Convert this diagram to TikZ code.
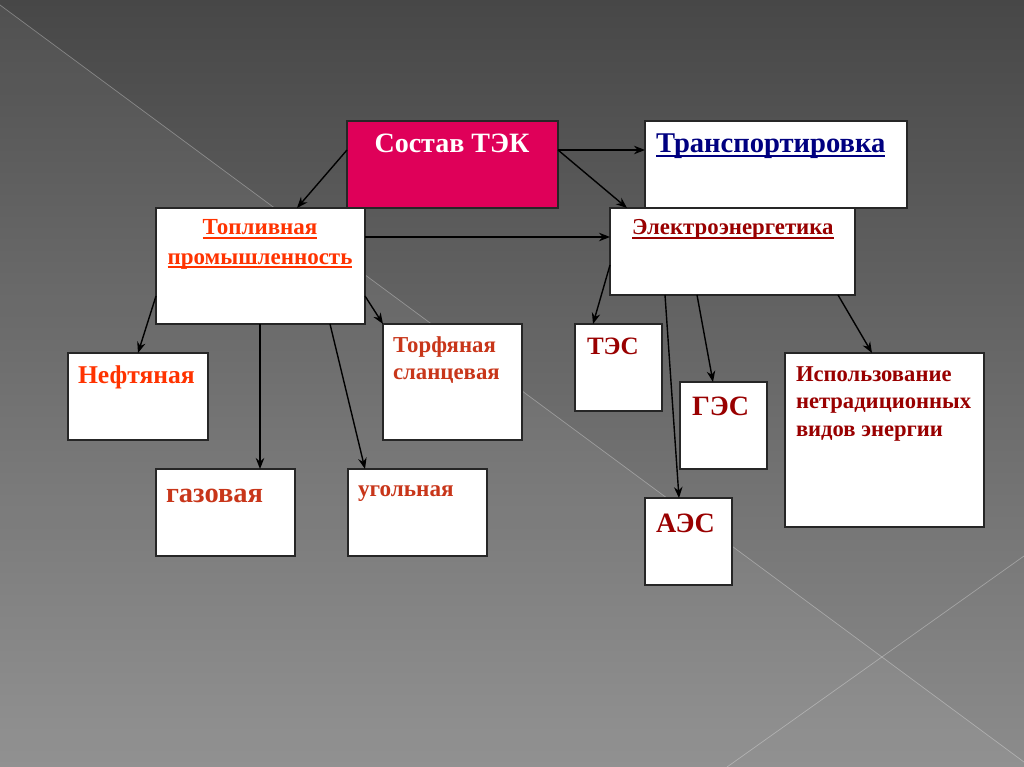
\documentclass[tikz,border=0pt]{standalone}
\usepackage{fontspec}
\setmainfont{Liberation Serif}
\usetikzlibrary{arrows.meta}
\definecolor{tekfill}{HTML}{DF0059}
\definecolor{navytxt}{HTML}{000080}
\definecolor{redA}{HTML}{FF3300}
\definecolor{redB}{HTML}{C8361A}
\definecolor{redC}{HTML}{990000}
\definecolor{bgtop}{HTML}{474747}
\definecolor{bgbot}{HTML}{8C8C8C}
\newcommand\ulx[1]{\setbox0\hbox{#1}\rlap{\vrule width \wd0 height -2pt depth 4.2pt}\box0}
\newcommand\fs[1]{\fontsize{#1}{#1}\selectfont\bfseries}
\tikzset{
  box/.style={draw=black!85, line width=1.3pt, fill=white, anchor=north west, inner sep=0pt, outer sep=0pt},
  txt/.style={anchor=base west, inner sep=0pt, outer sep=0pt, font=\bfseries},
  arr/.style={draw=black, line width=1.4pt, -{Stealth[length=11pt,width=8.5pt]}},
}
\begin{document}
\begin{tikzpicture}[x=1pt,y=-1pt]
\useasboundingbox (0,0) rectangle (1024,767);
% background
\shade[top color=bgtop, bottom color=bgbot] (0,0) rectangle (1024,767);
\fill[white, opacity=0.05] (0,5) -- (1024,762) -- (1024,767) -- (0,767) -- cycle;
\draw[white, opacity=0.3, line width=0.7pt] (0,5) -- (1024,762);
\draw[white, opacity=0.3, line width=0.7pt] (1024,556) -- (727,767);
% boxes
\node[box, fill=tekfill, minimum width=211pt, minimum height=87pt] (tek) at (347,121) {};
\node[box, minimum width=262pt, minimum height=87pt] (trans) at (645,121) {};
\node[box, minimum width=209pt, minimum height=116pt] (top) at (156,208) {};
\node[box, minimum width=245pt, minimum height=87pt] (el) at (610,208) {};
\node[box, minimum width=140pt, minimum height=87pt] (neft) at (68,353) {};
\node[box, minimum width=139pt, minimum height=87pt] (gaz) at (156,469) {};
\node[box, minimum width=139pt, minimum height=87pt] (ugol) at (348,469) {};
\node[box, minimum width=139pt, minimum height=116pt] (torf) at (383,324) {};
\node[box, minimum width=87pt, minimum height=87pt] (tes) at (575,324) {};
\node[box, minimum width=87pt, minimum height=87pt] (ges) at (680,382) {};
\node[box, minimum width=87pt, minimum height=87pt] (aes) at (645,498) {};
\node[box, minimum width=199pt, minimum height=174pt] (isp) at (785,353) {};
% texts
\node[txt, anchor=base, text=white] (tektxt) at (452,153) {\fs{28}Состав ТЭК};
\node[txt, text=navytxt] (transtxt) at (656,153) {\fs{28.6}\ulx{Транспортировка}};
\node[txt, anchor=base, text=redA] (toptxt1) at (260,235) {\fs{23}\ulx{Топливная}};
\node[txt, anchor=base, text=redA] (toptxt2) at (260,264) {\fs{23}\ulx{промышленность}};
\node[txt, text=redC] (eltxt) at (632,235) {\fs{22.8}\ulx{Электроэнергетика}};
\node[txt, text=redA] (nefttxt) at (78,383) {\fs{25.6}Нефтяная};
\node[txt, text=redB] (torftxt1) at (393,352) {\fs{22.8}Торфяная};
\node[txt, text=redB] (torftxt2) at (393,379) {\fs{22.8}сланцевая};
\node[txt, text=redB] (gaztxt) at (166,502) {\fs{28.5}газовая};
\node[txt, text=redB] (ugoltxt) at (358,496) {\fs{23.2}угольная};
\node[txt, text=redC] (testxt) at (587,354) {\fs{25}ТЭС};
\node[txt, text=redC] (gestxt) at (692,415) {\fs{28}ГЭС};
\node[txt, text=redC] (aestxt) at (656,532) {\fs{28}АЭС};
\node[txt, text=redC] (isptxt1) at (796,381) {\fs{22.6}Использование};
\node[txt, text=redC] (isptxt2) at (796,408) {\fs{22.6}нетрадиционных};
\node[txt, text=redC] (isptxt3) at (796,436) {\fs{22.6}видов энергии};
% arrows
\draw[arr] ([yshift=-29pt]tek.north west) -- ([xshift=141pt]top.north west);
\draw[arr] ([yshift=-29pt]tek.north east) -- ([yshift=-29pt]trans.north west);
\draw[arr] ([yshift=-29pt]tek.north east) -- ([xshift=17pt]el.north west);
\draw[arr] ([yshift=-29pt]top.north east) -- ([yshift=-29pt]el.north west);
\draw[arr] ([yshift=-88pt]top.north west) -- ([xshift=70pt]neft.north west);
\draw[arr] ([xshift=104pt]top.south west) -- ([xshift=104pt]gaz.north west);
\draw[arr] ([xshift=174pt]top.south west) -- ([xshift=17pt]ugol.north west);
\draw[arr] ([yshift=-88pt]top.north east) -- (torf.north west);
\draw[arr] ([yshift=-57pt]el.north west) -- ([xshift=18pt]tes.north west);
\draw[arr] ([xshift=55pt]el.south west) -- ([xshift=34pt]aes.north west);
\draw[arr] ([xshift=87pt]el.south west) -- ([xshift=33pt]ges.north west);
\draw[arr] ([xshift=228pt]el.south west) -- ([xshift=87pt]isp.north west);
\end{tikzpicture}
\end{document}
